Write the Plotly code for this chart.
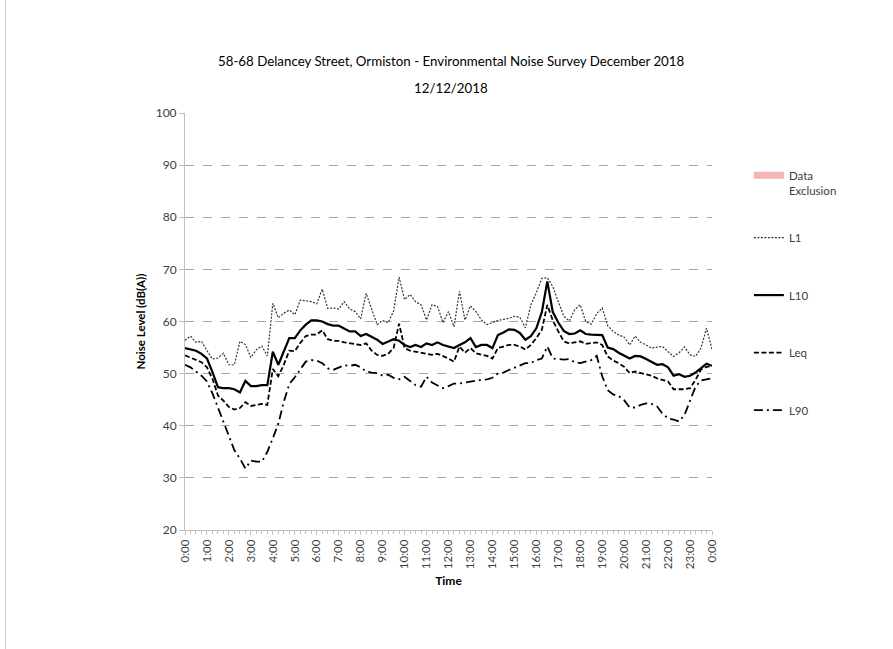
import plotly.graph_objects as go

# 15-minute statistical noise levels, 12/12/2018 (00:00 -> 24:00)
L1 = [56.4, 57.2, 56.0, 56.2, 54.4, 52.8, 53.0, 53.9, 51.7, 51.7, 56.2, 55.6, 53.1, 54.6, 55.3, 53.4,
      63.5, 60.7, 61.6, 62.2, 61.3, 64.1, 64.0, 63.8, 63.4, 66.2, 62.5, 62.6, 62.4, 63.8, 62.4, 61.9,
      60.5, 65.4, 62.4, 59.4, 60.2, 59.8, 62.0, 68.5, 64.2, 65.2, 63.8, 63.2, 60.3, 63.2, 62.9, 59.8,
      61.9, 59.0, 65.8, 60.3, 63.0, 61.9, 60.3, 59.4, 59.8, 60.2, 60.4, 60.6, 61.0, 60.8, 58.8, 63.2,
      65.5, 68.3, 68.4, 66.7, 63.8, 61.0, 60.1, 62.3, 63.2, 60.0, 59.5, 61.5, 62.6, 59.2, 58.1, 57.4,
      57.0, 55.5, 57.2, 56.0, 55.5, 54.9, 55.1, 55.2, 54.2, 53.3, 54.0, 55.1, 53.6, 53.3, 54.9, 58.7,
      54.7]

L10 = [54.9, 54.7, 54.4, 53.8, 52.9, 50.3, 47.4, 47.2, 47.2, 47.0, 46.4, 48.6, 47.6, 47.6, 47.8, 47.8,
       54.2, 51.7, 54.2, 56.8, 56.8, 58.3, 59.4, 60.2, 60.2, 60.0, 59.5, 59.2, 59.2, 58.7, 58.1, 58.1,
       57.2, 57.6, 57.0, 56.5, 55.7, 56.2, 56.6, 56.3, 55.5, 55.1, 55.5, 55.1, 55.8, 55.5, 56.0, 55.5,
       55.2, 54.9, 55.5, 56.0, 56.8, 55.1, 55.5, 55.5, 54.9, 57.4, 57.9, 58.5, 58.4, 57.8, 56.5, 57.2,
       58.7, 61.8, 67.7, 61.8, 59.8, 58.2, 57.6, 57.7, 58.3, 57.6, 57.5, 57.4, 57.4, 55.0, 54.7, 54.0,
       53.4, 52.9, 53.4, 53.3, 52.8, 52.3, 51.7, 51.8, 51.2, 49.6, 49.9, 49.4, 49.6, 50.2, 51.0, 51.9,
       51.5]

Leq = [53.5, 53.1, 52.7, 52.2, 51.2, 49.0, 45.8, 44.8, 43.6, 43.1, 43.4, 44.5, 43.8, 44.0, 44.2, 44.0,
       50.9, 49.5, 51.7, 54.4, 54.3, 55.9, 57.2, 57.5, 57.5, 58.3, 56.6, 56.3, 56.3, 56.0, 55.8, 55.6,
       55.5, 55.8, 54.4, 53.6, 53.4, 53.8, 54.9, 59.6, 54.9, 54.4, 54.2, 53.9, 53.8, 53.6, 53.8, 53.4,
       52.9, 52.3, 55.2, 54.0, 54.9, 53.9, 53.6, 53.4, 52.9, 54.9, 55.2, 55.5, 55.5, 55.2, 54.6, 55.5,
       56.8, 58.4, 63.2, 60.2, 58.1, 56.2, 55.8, 56.0, 56.2, 55.7, 55.8, 56.0, 55.5, 53.3, 52.5, 52.0,
       51.3, 50.1, 50.4, 50.1, 49.9, 49.6, 49.1, 48.8, 48.5, 47.0, 47.0, 47.0, 47.2, 48.8, 50.8, 51.3,
       51.5]

L90 = [51.7, 51.2, 50.4, 49.6, 48.5, 46.2, 43.5, 40.8, 38.0, 35.3, 33.7, 31.8, 33.3, 33.1, 33.1, 35.0,
       37.6, 40.4, 44.6, 48.0, 49.3, 50.9, 52.3, 52.6, 52.5, 52.0, 51.0, 50.7, 51.1, 51.6, 51.5, 51.7,
       51.2, 50.4, 50.2, 50.1, 49.6, 49.8, 49.2, 48.9, 49.4, 48.6, 47.8, 47.5, 49.4, 48.3, 47.8, 47.2,
       47.6, 48.1, 48.1, 48.3, 48.5, 48.7, 48.8, 48.9, 49.2, 50.0, 50.2, 50.7, 51.1, 51.5, 52.0, 52.0,
       52.6, 52.9, 55.2, 52.9, 52.8, 52.7, 52.8, 52.2, 52.0, 52.3, 52.6, 53.4, 49.5, 46.8, 46.0, 45.7,
       44.9, 43.5, 43.5, 44.0, 44.3, 44.2, 43.7, 42.3, 41.4, 41.2, 40.8, 42.1, 44.8, 47.5, 48.7, 48.9,
       49.1]

# time of each sample in hours from midnight
hours = [i * 0.25 for i in range(len(L1))]
hour_ticks = list(range(25))
hour_labels = [f"{h % 24}:00" for h in hour_ticks]

FONT = "Lato"
TXT = "#404040"
GRID = "#a6a6a6"

fig = go.Figure()

# legend-only entry for excluded periods (none on this day)
fig.add_trace(go.Scatter(x=[None], y=[None], mode="lines", name="Data<br>Exclusion",
                         line=dict(color="#f4b5b5", width=7), legend="legend",
                         hoverinfo="skip"))

series = [
    ("L1", L1, dict(color="#333333", width=1.2, dash="2px,1.5px")),
    ("L10", L10, dict(color="#000000", width=2.2)),
    ("Leq", Leq, dict(color="#000000", width=1.8, dash="5px,2.5px")),
    ("L90", L90, dict(color="#000000", width=1.8, dash="9px,4px,2px,4px")),
]
for name, vals, ln in series:
    fig.add_trace(go.Scatter(x=hours, y=vals, mode="lines", name=name, line=ln,
                             legend="legend2", legendgroup=name))

fig.update_layout(
    width=893, height=649,
    margin=dict(l=185, r=181, t=113, b=119, autoexpand=False),
    paper_bgcolor="white", plot_bgcolor="white",
    font=dict(family=FONT, color=TXT, size=11),
    showlegend=True,
    legend=dict(x=1.07, y=0.884, xanchor="left", yanchor="top", valign="top",
                font=dict(family=FONT, size=11.5, color=TXT), bgcolor="rgba(0,0,0,0)"),
    legend2=dict(x=1.07, y=0.736, xanchor="left", yanchor="top",
                 tracegroupgap=38.5,
                 font=dict(family=FONT, size=11.5, color=TXT), bgcolor="rgba(0,0,0,0)"),
    xaxis=dict(range=[0, 24], tickmode="array", tickvals=hour_ticks, ticktext=hour_labels,
               tickangle=-90, ticks="outside", ticklen=4, tickcolor="#bfbfbf",
               minor=dict(dtick=0.25, ticks="outside", ticklen=3, tickcolor="#bfbfbf"),
               showline=True, linecolor="#bfbfbf", linewidth=1, showgrid=False, zeroline=False,
               tickfont=dict(family=FONT, size=11.5, color=TXT),
               title=dict(text="<b>Time</b>", font=dict(family=FONT, size=12, color="#000"),
                          standoff=8)),
    yaxis=dict(range=[20, 100], dtick=10, ticks="outside", ticklen=5, tickcolor="#bfbfbf",
               showline=True, linecolor="#bfbfbf", linewidth=1,
               showgrid=True, gridcolor=GRID, griddash="dash", gridwidth=1, zeroline=False,
               tickfont=dict(family=FONT, size=12, color=TXT),
               title=dict(text="<b>Noise Level (dB(A))</b>",
                          font=dict(family=FONT, size=11.5, color="#000"), standoff=7)),
    annotations=[
        dict(text="58-68 Delancey Street, Ormiston - Environmental Noise Survey December 2018",
             x=0.505, y=1.149, xref="paper", yref="paper", showarrow=False,
             font=dict(family=FONT, size=13.3, color="#000")),
        dict(text="12/12/2018", x=0.505, y=1.084, xref="paper", yref="paper", showarrow=False,
             font=dict(family=FONT, size=13.3, color="#000")),
    ],
    # chart-area frame edge on the left side of the page
    shapes=[dict(type="line", xref="paper", yref="paper", x0=-0.3406, x1=-0.3406,
                 y0=-0.29, y1=1.28, line=dict(color="#d0d0d0", width=1))],
)

fig.write_html("out.html")
